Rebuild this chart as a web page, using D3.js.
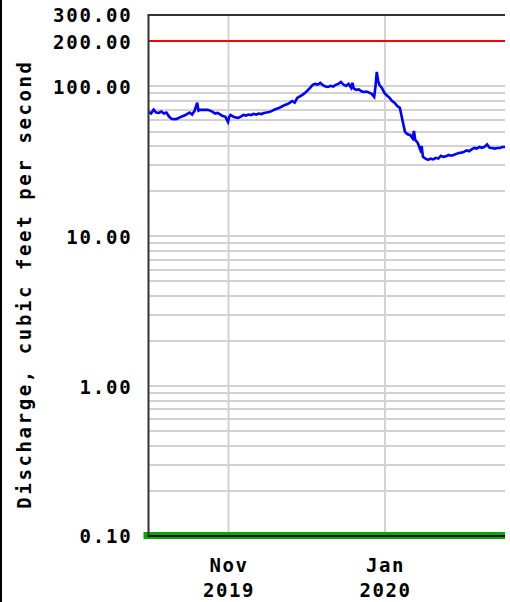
<!DOCTYPE html>
<html>
<head>
<meta charset="utf-8">
<script src="https://cdn.jsdelivr.net/npm/d3@7"></script>
<style>
  body { margin: 0; background: #fff; }
  svg text { font-family: "DejaVu Sans Mono", monospace; font-weight: bold; fill: #000; }
</style>
</head>
<body>
<svg id="chart" width="510" height="602"></svg>
<script>
'use strict';

// daily discharge, cfs (a few half-day points for spikes)
var dates = [
  '2019-10-01', '2019-10-02', '2019-10-03', '2019-10-04', '2019-10-05', '2019-10-06', '2019-10-07',
  '2019-10-08', '2019-10-09', '2019-10-10', '2019-10-11', '2019-10-12', '2019-10-13', '2019-10-14',
  '2019-10-15', '2019-10-16', '2019-10-17', '2019-10-18', '2019-10-19', '2019-10-20', '2019-10-20 12',
  '2019-10-21', '2019-10-22', '2019-10-23', '2019-10-24', '2019-10-25', '2019-10-26', '2019-10-27',
  '2019-10-28', '2019-10-29', '2019-10-30', '2019-10-31', '2019-11-01', '2019-11-01 12', '2019-11-02',
  '2019-11-03', '2019-11-04', '2019-11-05', '2019-11-06', '2019-11-07', '2019-11-08', '2019-11-09',
  '2019-11-10', '2019-11-11', '2019-11-12', '2019-11-13', '2019-11-14', '2019-11-15', '2019-11-16',
  '2019-11-17', '2019-11-18', '2019-11-19', '2019-11-20', '2019-11-21', '2019-11-22', '2019-11-23',
  '2019-11-24', '2019-11-25', '2019-11-26', '2019-11-27', '2019-11-28', '2019-11-29', '2019-11-30',
  '2019-12-01', '2019-12-02', '2019-12-03', '2019-12-04', '2019-12-05', '2019-12-06', '2019-12-07',
  '2019-12-08', '2019-12-09', '2019-12-10', '2019-12-11', '2019-12-12', '2019-12-13', '2019-12-14',
  '2019-12-15', '2019-12-16', '2019-12-17', '2019-12-18', '2019-12-19', '2019-12-19 12', '2019-12-20',
  '2019-12-21', '2019-12-22', '2019-12-23', '2019-12-24', '2019-12-25', '2019-12-26', '2019-12-27',
  '2019-12-28', '2019-12-28 12', '2019-12-29', '2019-12-29 12', '2019-12-30', '2019-12-31',
  '2020-01-01', '2020-01-02', '2020-01-03', '2020-01-04', '2020-01-05', '2020-01-06', '2020-01-07',
  '2020-01-08', '2020-01-09', '2020-01-10', '2020-01-11', '2020-01-12', '2020-01-12 12', '2020-01-13',
  '2020-01-14', '2020-01-15', '2020-01-15 12', '2020-01-16', '2020-01-17', '2020-01-18', '2020-01-19',
  '2020-01-20', '2020-01-21', '2020-01-22', '2020-01-23', '2020-01-24', '2020-01-25', '2020-01-26',
  '2020-01-27', '2020-01-28', '2020-01-29', '2020-01-30', '2020-01-31', '2020-02-01', '2020-02-02',
  '2020-02-03', '2020-02-04', '2020-02-05', '2020-02-06', '2020-02-07', '2020-02-08', '2020-02-09',
  '2020-02-10', '2020-02-11', '2020-02-12', '2020-02-13', '2020-02-14', '2020-02-15', '2020-02-16',
  '2020-02-17'
];
var discharge = [
  67.6, 66, 70, 67, 66.6, 68, 66,
  67, 63, 60.8, 60.5, 60.8, 62, 63,
  64, 65.5, 67, 65, 69, 78, 69,
  69.8, 70, 69.8, 70, 69, 67.6, 66,
  66.6, 65, 63.5, 62.7, 58, 63, 64.6,
  63, 62, 61.7, 63, 64.6, 64, 65,
  64.5, 65.6, 65, 66, 65.5, 66.6, 67,
  67.6, 68.5, 70, 71, 72, 73.5, 75,
  76, 77.7, 80, 78, 83.9, 86, 88,
  90.6, 94, 98, 102.5, 104, 103, 105.7,
  102, 100, 99.4, 101, 100, 102.5, 104,
  107.3, 103, 100.9, 104, 98, 106, 97,
  94.9, 95.5, 93, 92, 92.5, 91, 89.3,
  85.2, 100, 125, 110, 102.5, 97.9,
  90.6, 87, 83.9, 80, 77.7, 74, 72,
  59.8, 49.8, 48, 47.5, 45, 50.5, 44,
  42, 37.7, 40, 33.9, 33, 32.4, 33,
  32.6, 33.4, 33, 34.5, 33.9, 34.2, 34.9,
  34.5, 34.9, 35.5, 36, 36.2, 36.6, 37.5,
  37, 38, 38.9, 38.5, 39.5, 39, 39.5,
  41, 39, 38.9, 38.5, 38.9, 38.9, 39.5,
  39.5
];

var yTicks = [0.1, 1, 10, 100, 200, 300];
var xTicks = ['2019-11-01', '2020-01-01'];
var xTickLabels = [['Nov', '2019'], ['Jan', '2020']];
var xDomain = ['2019-10-01', '2020-02-17'];
var referenceLine = 200;
var yTitle = 'Discharge, cubic feet per second';

var parseDay = d3.timeParse('%Y-%m-%d');
var parseHour = d3.timeParse('%Y-%m-%d %H');
function parseDate (s) {
  return s.length > 10 ? parseHour(s) : parseDay(s);
}

var plotLeft = 148.5, plotRight = 505, plotTop = 15, plotBottom = 536;

var x = d3.scaleTime()
  .domain(xDomain.map(parseDate))
  .range([plotLeft, plotRight]);
var y = d3.scaleLog()
  .domain([0.1, 300])
  .range([plotBottom, plotTop]);

var svg = d3.select('#chart');

// frame edge at far left
svg.append('rect')
  .attr('x', 0).attr('y', 0)
  .attr('width', 2).attr('height', 602)
  .attr('fill', '#000');

// horizontal grid at every 1..9 multiple
var gridValues = [];
[0.1, 1, 10, 100].forEach(function (d) {
  for (var k = 1; k <= 9; k++) {
    var v = +(k * d).toPrecision(3);
    if (v <= 300) gridValues.push(v);
  }
});

svg.append('g')
  .selectAll('line')
  .data(gridValues)
  .enter().append('line')
  .attr('x1', plotLeft).attr('x2', plotRight)
  .attr('y1', function (d) { return Math.round(y(d)); })
  .attr('y2', function (d) { return Math.round(y(d)); })
  .attr('stroke', '#d2d2d2')
  .attr('stroke-width', 2);

// vertical grid + labels
var xAxis = d3.axisBottom(x)
  .tickValues(xTicks.map(parseDate))
  .tickSize(-(plotBottom - plotTop))
  .tickFormat('');
var xg = svg.append('g')
  .attr('transform', 'translate(0,' + plotBottom + ')')
  .call(xAxis);
xg.select('.domain').remove();
xg.selectAll('.tick line')
  .attr('stroke', '#d2d2d2')
  .attr('stroke-width', 2);

var labels = svg.append('g')
  .selectAll('text')
  .data(xTicks)
  .enter().append('text')
  .attr('x', function (d) { return x(parseDate(d)) + 1; })
  .attr('text-anchor', 'middle')
  .style('font-size', '19px')
  .style('letter-spacing', '1.6px');
labels.append('tspan')
  .attr('y', 572)
  .text(function (d, i) { return xTickLabels[i][0]; });
labels.append('tspan')
  .attr('x', function (d) { return x(parseDate(d)) + 1; })
  .attr('y', 597)
  .text(function (d, i) { return xTickLabels[i][1]; });

// reference line
svg.append('line')
  .attr('x1', plotLeft).attr('x2', plotRight)
  .attr('y1', Math.round(y(referenceLine)))
  .attr('y2', Math.round(y(referenceLine)))
  .attr('stroke', '#ff0000')
  .attr('stroke-width', 2);

// discharge line
var line = d3.line()
  .x(function (d) { return x(d.date); })
  .y(function (d) { return y(d.value); });
var series = dates.map(function (d, i) {
  return { date: parseDate(d), value: discharge[i] };
});
svg.append('path')
  .datum(series)
  .attr('d', line)
  .attr('fill', 'none')
  .attr('stroke', '#0000ff')
  .attr('stroke-width', 2.6)
  .attr('stroke-linejoin', 'miter');

// bottom green band and axis
svg.append('rect')
  .attr('x', 143.5).attr('y', plotBottom - 4)
  .attr('width', plotRight - 143.5).attr('height', 7)
  .attr('fill', '#00aa00');
svg.append('line')
  .attr('x1', plotLeft - 1).attr('x2', plotRight)
  .attr('y1', plotBottom).attr('y2', plotBottom)
  .attr('stroke', '#000').attr('stroke-width', 2);

// left and top frame
svg.append('line')
  .attr('x1', plotLeft).attr('x2', plotLeft)
  .attr('y1', plotTop).attr('y2', plotBottom)
  .attr('stroke', '#333').attr('stroke-width', 2);
svg.append('line')
  .attr('x1', plotLeft - 1).attr('x2', plotRight)
  .attr('y1', plotTop).attr('y2', plotTop)
  .attr('stroke', '#333').attr('stroke-width', 2);

// y tick labels
var yAxis = d3.axisLeft(y)
  .tickValues(yTicks)
  .tickFormat(d3.format('.2f'))
  .tickSize(0)
  .tickPadding(16);
var yg = svg.append('g')
  .attr('transform', 'translate(' + plotLeft + ',0)')
  .call(yAxis);
yg.select('.domain').remove();
yg.selectAll('text')
  .attr('dy', '0.36em')
  .style('font-size', '19px')
  .style('letter-spacing', '1.8px')
  .style('font-family', '"DejaVu Sans Mono", monospace')
  .style('font-weight', 'bold')
  .attr('fill', '#000');

// y title
svg.append('text')
  .attr('transform', 'translate(24,284) rotate(-90)')
  .attr('text-anchor', 'middle')
  .attr('dy', '0.36em')
  .style('font-size', '19px')
  .style('letter-spacing', '2.6px')
  .text(yTitle);
</script>
</body>
</html>
